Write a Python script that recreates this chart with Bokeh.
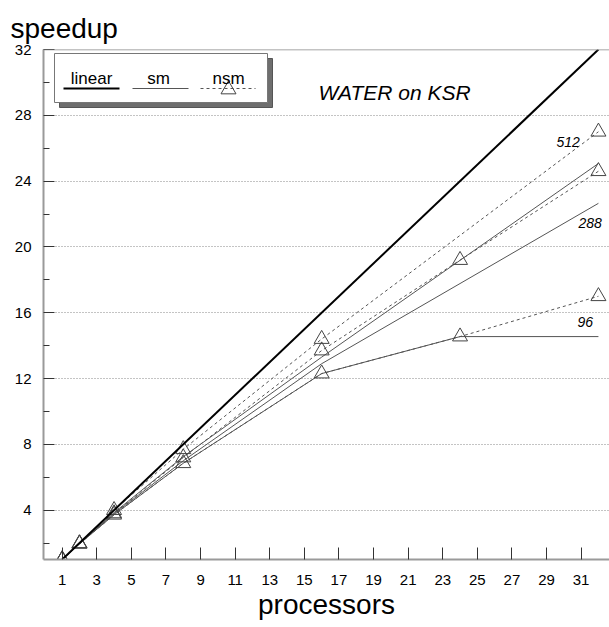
from bokeh.plotting import figure
from bokeh.models import FixedTicker, Span, Label, Range1d
from bokeh.embed import file_html
from bokeh.resources import INLINE

# ---- data ----
linear_x = [1, 32]
linear_y = [1, 32]

procs_96 = [1, 2, 4, 8, 16, 24, 32]
sm_96 = [1, 1.95, 3.72, 6.85, 12.3, 14.55, 14.55]
nsm_96 = [1, 1.95, 3.72, 6.85, 12.3, 14.55, 17.0]

procs_288_sm = [1, 2, 4, 8, 16, 32]
sm_288 = [1, 1.96, 3.78, 7.0, 12.9, 22.65]
procs_288_nsm = [1, 2, 4, 8, 16, 24, 32]
nsm_288 = [1, 1.97, 3.8, 7.2, 13.7, 19.2, 24.6]

procs_512 = [1, 2, 4, 8, 16, 32]
sm_512 = [1, 1.97, 3.85, 7.25, 13.3, 25.07]
nsm_512 = [1, 1.98, 4.0, 7.7, 14.4, 27.0]

x_ticks = list(range(1, 32, 2))
y_ticks = [4, 8, 12, 16, 20, 24, 28, 32]
y_minor = [2, 6, 10, 14, 18, 22, 26, 30]
grid_ticks = [4, 8, 12, 16, 20, 24, 28]

FONT = "Liberation Sans"
THIN = "#555555"
AX = "#9a9a9a"

X0, X1 = -0.08, 32.64
Y0, Y1 = 1, 32
W, H = 609, 627
LEFT, TOP, BOTTOM = 43, 49, 68

p = figure(width=W, height=H, x_range=Range1d(X0, X1), y_range=Range1d(Y0, Y1),
           output_backend="svg", toolbar_location=None,
           min_border_left=LEFT, min_border_right=0, min_border_top=TOP,
           min_border_bottom=BOTTOM)
p.outline_line_color = None
p.background_fill_color = "white"
p.border_fill_color = "white"

p.title.text = "speedup"
p.title.text_font = FONT
p.title.text_font_size = "28px"
p.title.text_font_style = "normal"
p.title.text_color = "black"
p.title.align = "left"
p.title.offset = -33
p.title.standoff = 12

# pixel -> data helpers (for decorations only)
fw = W - LEFT
fh = H - TOP - BOTTOM
def dx(px):
    return X0 + (px - LEFT) * (X1 - X0) / fw
def dy(py):
    return Y1 - (py - TOP) * (Y1 - Y0) / fh

# axes
p.xaxis.ticker = FixedTicker(ticks=x_ticks)
p.xaxis.major_tick_in = 12
p.xaxis.major_tick_out = 0
p.xaxis.major_label_standoff = 15
p.xaxis.axis_label = "processors"
p.xaxis.axis_label_text_font = FONT
p.xaxis.axis_label_text_font_size = "28px"
p.xaxis.axis_label_text_font_style = "normal"
p.xaxis.axis_label_text_color = "black"
p.xaxis.axis_label_standoff = 1
p.yaxis.ticker = FixedTicker(ticks=y_ticks, minor_ticks=y_minor)
p.yaxis.major_tick_in = 11
p.yaxis.major_tick_out = 0
p.yaxis.minor_tick_in = 6
p.yaxis.minor_tick_out = 0
p.yaxis.major_label_standoff = 12
for ax in (p.xaxis, p.yaxis):
    ax.axis_line_color = AX
    ax.axis_line_width = 2
    ax.major_tick_line_color = "#333333"
    ax.major_label_text_font = FONT
    ax.major_label_text_font_size = "15px"
    ax.major_label_text_color = "black"
p.xaxis.minor_tick_line_color = None
p.yaxis.minor_tick_line_color = "#333333"

p.xgrid.visible = False
p.ygrid.ticker = FixedTicker(ticks=grid_ticks)
p.ygrid.grid_line_color = "#888888"
p.ygrid.grid_line_dash = "1 2"
p.ygrid.grid_line_width = 1

p.add_layout(Span(location=32, dimension="width", line_color="#888888", line_width=1.5))

# series
p.line(procs_96, sm_96, line_color=THIN, line_width=1)
p.line(procs_288_sm, sm_288, line_color=THIN, line_width=1)
p.line(procs_512, sm_512, line_color=THIN, line_width=1)
for xs, ys in ((procs_96, nsm_96), (procs_288_nsm, nsm_288), (procs_512, nsm_512)):
    p.line(xs, ys, line_color=THIN, line_width=1, line_dash="3 3")
    p.scatter(xs, ys, marker="triangle", size=15, fill_color=None,
              line_color="#444444", line_width=1)
p.line(linear_x, linear_y, line_color="black", line_width=2)

# size labels
for txt, px, py in (("512", 556, 141), ("288", 578, 222), ("96", 577, 321)):
    p.add_layout(Label(x=dx(px), y=dy(py), text=txt, text_font=FONT,
                       text_font_size="14px", text_font_style="italic",
                       text_color="black",
                       text_baseline="middle", text_align="left"))

p.add_layout(Label(x=dx(318), y=dy(92), text="WATER on KSR", text_font=FONT,
                   text_font_size="21px", text_font_style="italic",
                   text_color="black", text_baseline="alphabetic"))

# legend box with shadow
p.quad(left=[dx(59)], right=[dx(272)], top=[dy(58)], bottom=[dy(107)],
       fill_color="#6e6e6e", line_color="#555555")
p.quad(left=[dx(54)], right=[dx(267)], top=[dy(53)], bottom=[dy(102)],
       fill_color="white", line_color="#777777", line_width=1)
for txt, cx in (("linear", 91), ("sm", 158), ("nsm", 228)):
    p.add_layout(Label(x=dx(cx), y=dy(77.5), text=txt, text_font=FONT,
                       text_font_size="17px", text_baseline="alphabetic",
                       text_color="black", text_align="center"))
p.line([dx(63), dx(119)], [dy(88), dy(88)], line_color="black", line_width=2)
p.line([dx(132), dx(188)], [dy(88), dy(88)], line_color=THIN, line_width=1)
p.line([dx(200), dx(255)], [dy(88), dy(88)], line_color=THIN, line_width=1, line_dash="3 3")
p.scatter([dx(228)], [dy(89)], marker="triangle", size=15, fill_color=None,
          line_color="#444444", line_width=1)

open("out.html", "w").write(file_html(p, INLINE))
